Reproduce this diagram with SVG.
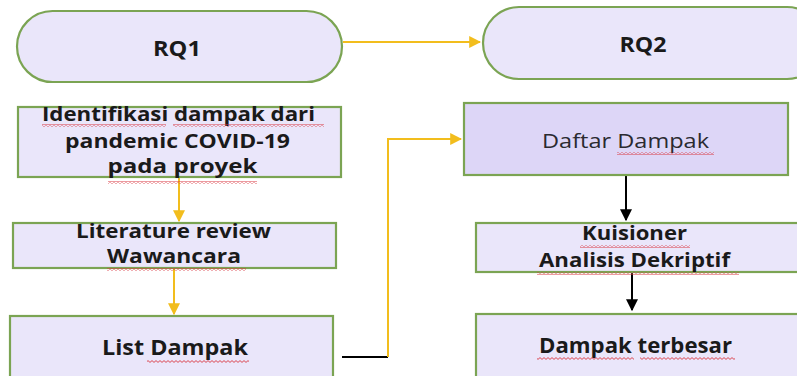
<svg xmlns="http://www.w3.org/2000/svg" width="797" height="376" viewBox="0 0 797 376">
  <style>
    .box { fill: #EAE6FA; stroke: #7BA453; stroke-width: 2.2; }
    .dark { fill: #DDD6F7; }
    .t { font-family: "Open Sans", "Liberation Sans", sans-serif; font-weight: bold; fill: #1A1A1A; text-anchor: middle; font-size: 19px; }
    .tn { font-family: "Open Sans", "Liberation Sans", sans-serif; font-weight: normal; fill: #2A2A30; text-anchor: middle; font-size: 20.5px; }
    .y { stroke: #F2BD1D; stroke-width: 2; fill: none; }
    .k { stroke: #000; stroke-width: 2; fill: none; }
    .sq { fill: url(#wavy); }
  </style>
  <defs>
    <marker id="ay" viewBox="0 0 10 10" refX="9" refY="5" markerWidth="6" markerHeight="6" orient="auto" markerUnits="strokeWidth">
      <path d="M0,0 L10,5 L0,10 z" fill="#F2BD1D"/>
    </marker>
    <marker id="ak" viewBox="0 0 10 10" refX="9" refY="5" markerWidth="6" markerHeight="6" orient="auto" markerUnits="strokeWidth">
      <path d="M0,0 L10,5 L0,10 z" fill="#000"/>
    </marker>
    <pattern id="wavy" width="4" height="3" patternUnits="userSpaceOnUse">
      <path d="M0,0.6 L2,2.4 L4,0.6" stroke="#D9363E" stroke-width="0.9" fill="none"/>
    </pattern>
  </defs>
  <rect width="797" height="376" fill="#FFFFFF"/>

  <g id="connectors">
    <path class="y" d="M343,42 L480,42" marker-end="url(#ay)"/>
    <path class="y" d="M179,178 L179,221" marker-end="url(#ay)"/>
    <path class="y" d="M174,269 L174,314" marker-end="url(#ay)"/>
    <path class="k" d="M342,357 L388,357"/>
    <path class="y" d="M388,357 L388,139 L461,139" marker-end="url(#ay)"/>
    <path class="k" d="M626,176 L626,220" marker-end="url(#ak)"/>
    <path class="k" d="M632,273 L632,310" marker-end="url(#ak)"/>
  </g>

  <g id="rq1">
    <rect class="box" x="17" y="11" width="325" height="71" rx="35.5" ry="35.5"/>
    <text class="t" x="177" y="56" font-size="21" style="font-size:21px" textLength="48" lengthAdjust="spacingAndGlyphs">RQ1</text>
  </g>

  <g id="rq2">
    <rect class="box" x="483" y="7" width="340" height="72" rx="36" ry="36"/>
    <text class="t" x="643" y="52" style="font-size:21px" textLength="47" lengthAdjust="spacingAndGlyphs">RQ2</text>
  </g>

  <g id="identifikasi">
    <rect class="box" x="18" y="107" width="323" height="70"/>
    <text class="t" x="178.5" y="121" textLength="273" lengthAdjust="spacingAndGlyphs">Identifikasi dampak dari</text>
    <text class="t" x="177.5" y="148" textLength="225" lengthAdjust="spacingAndGlyphs">pandemic COVID-19</text>
    <text class="t" x="182.5" y="173" textLength="150" lengthAdjust="spacingAndGlyphs">pada proyek</text>
    <rect class="sq" x="42" y="124" width="124" height="3"/>
    <rect class="sq" x="173" y="124" width="151" height="3"/>
    <rect class="sq" x="108" y="181" width="149" height="3"/>
  </g>

  <g id="literature">
    <rect class="box" x="13" y="223" width="323" height="45"/>
    <text class="t" x="173.5" y="238" textLength="195" lengthAdjust="spacingAndGlyphs">Literature review</text>
    <text class="t" x="174" y="263" textLength="134" lengthAdjust="spacingAndGlyphs">Wawancara</text>
    <rect class="sq" x="107" y="268" width="139" height="3"/>
  </g>

  <g id="list">
    <rect class="box" x="10" y="316" width="323" height="70"/>
    <text class="t" x="175" y="355" style="font-size:20.5px" textLength="146" lengthAdjust="spacingAndGlyphs">List Dampak</text>
    <rect class="sq" x="147" y="360" width="102" height="3"/>
  </g>

  <g id="daftar">
    <rect class="box dark" x="464" y="103" width="324" height="72"/>
    <text class="tn" x="625.5" y="148" textLength="167" lengthAdjust="spacingAndGlyphs">Daftar Dampak</text>
    <rect class="sq" x="617" y="152" width="97" height="3"/>
  </g>

  <g id="kuisioner">
    <rect class="box" x="476" y="223" width="330" height="49"/>
    <text class="t" x="634.5" y="240" textLength="105" lengthAdjust="spacingAndGlyphs">Kuisioner</text>
    <text class="t" x="634.5" y="267" textLength="191" lengthAdjust="spacingAndGlyphs">Analisis Dekriptif</text>
    <rect class="sq" x="580" y="245" width="110" height="3"/>
    <rect class="sq" x="537" y="272" width="202" height="3"/>
  </g>

  <g id="terbesar">
    <rect class="box" x="476" y="314" width="330" height="72"/>
    <text class="t" x="635.5" y="353" style="font-size:20.5px" textLength="193" lengthAdjust="spacingAndGlyphs">Dampak terbesar</text>
    <rect class="sq" x="537" y="357" width="97" height="3"/>
    <rect class="sq" x="640" y="357" width="95" height="3"/>
  </g>
</svg>
